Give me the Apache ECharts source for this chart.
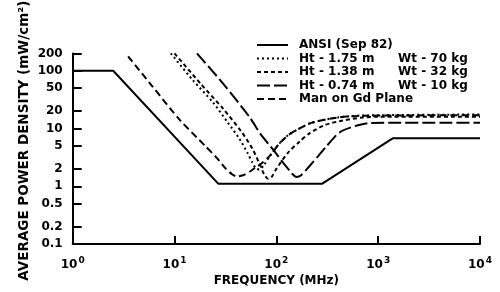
<!DOCTYPE html>
<html><head><meta charset="utf-8">
<script src="https://cdn.jsdelivr.net/npm/echarts@6/dist/echarts.min.js"></script>
<style>html,body{margin:0;padding:0;background:#fff}#c{width:500px;height:292px}</style>
</head><body><div id="c"></div>
<script>
// ---- data (frequency in MHz, average power density in mW/cm^2) ----
const seriesNames = [
  'ANSI (Sep 82)',
  'Ht - 1.75 m    Wt - 70 kg',
  'Ht - 1.38 m    Wt - 32 kg',
  'Ht - 0.74 m    Wt - 10 kg',
  'Man on Gd Plane'
];
const ansiFreq = [1, 2.5, 27, 280, 1400, 10000];
const ansiPd   = [100, 100, 1.1, 1.1, 6.8, 6.8];

const ht175Freq = [9.2, 15, 24, 33, 43, 52, 58, 63, 68, 75, 88, 108, 135, 220, 400, 700, 10000];
const ht175Pd   = [200, 70, 28, 13, 6.8, 3.8, 2.6, 2.05, 1.95, 2.3, 3.5, 5.6, 8, 12.5, 15.5, 16.8, 17.5];

const ht138Freq = [10, 18, 30, 45, 58, 68, 76, 83, 90, 100, 130, 170, 213, 300, 450, 700, 1000, 10000];
const ht138Pd   = [200, 60, 22, 9, 4.5, 2.5, 1.6, 1.35, 1.45, 2.0, 3.8, 6, 8.3, 11.5, 13.8, 15.5, 16, 16];

const ht074Freq = [16.6, 30, 55, 69, 93, 120, 143, 158, 175, 210, 260, 313, 418, 620, 830, 10000];
const ht074Pd   = [200, 60, 15.5, 8.3, 4.3, 2.4, 1.65, 1.45, 1.55, 2.2, 3.4, 5, 8.6, 11.3, 12.5, 12.6];

const gndFreq = [3.5, 6, 11.3, 20, 26, 32, 37, 41, 47, 55, 62, 72, 88, 108, 135, 220, 400, 700, 10000];
const gndPd   = [178, 55, 14, 5, 3.1, 2.0, 1.6, 1.47, 1.55, 1.8, 2.1, 2.5, 3.5, 5.6, 8, 12.5, 15.5, 16.6, 17];

const yTickValues = [0.1, 0.2, 0.5, 1, 2, 5, 10, 20, 50, 100, 200];

// ---- helpers ----
const zip = (xs, ys) => xs.map((x, i) => [x, ys[i]]);
const FONT = 'DejaVu Sans';
const txt = { color: '#000', fontFamily: FONT, fontWeight: 'bold' };

function lineSeries(name, xs, ys, dash, smooth) {
  return {
    name, type: 'line', data: zip(xs, ys), symbol: 'none',
    smooth: smooth ? 0.25 : false,
    lineStyle: { color: '#000', width: 2, type: dash },
    itemStyle: { color: '#000' },
    z: 3
  };
}

const chart = echarts.init(document.getElementById('c'), null, { renderer: 'canvas' });
chart.setOption({
  backgroundColor: '#fff',
  animation: false,
  grid: { left: 72.7, right: 20, top: 49.6, bottom: 43.4 },
  legend: {
    orient: 'vertical', left: 256, top: 38.5, padding: 0,
    itemWidth: 31, itemHeight: 10, itemGap: 0.5,
    data: seriesNames,
    itemStyle: { color: 'rgba(0,0,0,0)', borderWidth: 0, opacity: 0 },
    formatter: name => {
      const p = name.split(/\s{2,}/);
      return p.length > 1 ? '{a|' + p[0] + '}{b|' + p[1] + '}' : '{a|' + name + '}';
    },
    textStyle: Object.assign({}, txt, {
      fontSize: 12, lineHeight: 13,
      rich: {
        a: Object.assign({}, txt, { fontSize: 12, lineHeight: 13, width: 99, padding: [0, 0, 0, 6] }),
        b: Object.assign({}, txt, { fontSize: 12, lineHeight: 13 })
      }
    })
  },
  xAxis: {
    type: 'log', logBase: 10, min: 1, max: 10000,
    name: 'FREQUENCY (MHz)', nameLocation: 'middle', nameGap: 31, nameMoveOverlap: false,
    nameTextStyle: Object.assign({}, txt, { fontSize: 12 }),
    axisLine: { show: true, lineStyle: { color: '#000', width: 2 } },
    axisTick: { show: true, inside: true, length: 8, lineStyle: { color: '#000', width: 2 } },
    minorTick: { show: false },
    splitLine: { show: false },
    axisLabel: {
      margin: 12,
      formatter: v => '{b|10}{s|' + Math.round(Math.log10(v)) + '}',
      rich: {
        b: Object.assign({}, txt, { fontSize: 12 }),
        s: Object.assign({}, txt, { fontSize: 9, padding: [0, 0, 8, 1] })
      }
    }
  },
  yAxis: {
    type: 'log', logBase: 10, min: 0.1, max: 200,
    name: 'AVERAGE POWER DENSITY (mW/cm²)', nameLocation: 'middle', nameGap: 41, nameRotate: 90,
    nameMoveOverlap: false,
    nameTextStyle: Object.assign({}, txt, { fontSize: 13.5, padding: [0, 0, 0, 16] }),
    axisLine: { show: true, lineStyle: { color: '#000', width: 2 } },
    axisTick: { show: true, inside: true, length: 9, customValues: yTickValues, lineStyle: { color: '#000', width: 2 } },
    minorTick: { show: false },
    splitLine: { show: false },
    axisLabel: Object.assign({}, txt, {
      fontSize: 12, margin: 10, customValues: yTickValues,
      formatter: v => String(+(+v).toPrecision(3))
    })
  },
  series: [
    lineSeries(seriesNames[0], ansiFreq, ansiPd, 'solid', false),
    lineSeries(seriesNames[1], ht175Freq, ht175Pd, [2, 3], true),
    lineSeries(seriesNames[2], ht138Freq, ht138Pd, [4, 3], true),
    lineSeries(seriesNames[3], ht074Freq, ht074Pd, [13, 4], true),
    lineSeries(seriesNames[4], gndFreq, gndPd, [7, 4], true)
  ]
});
</script>
</body></html>
